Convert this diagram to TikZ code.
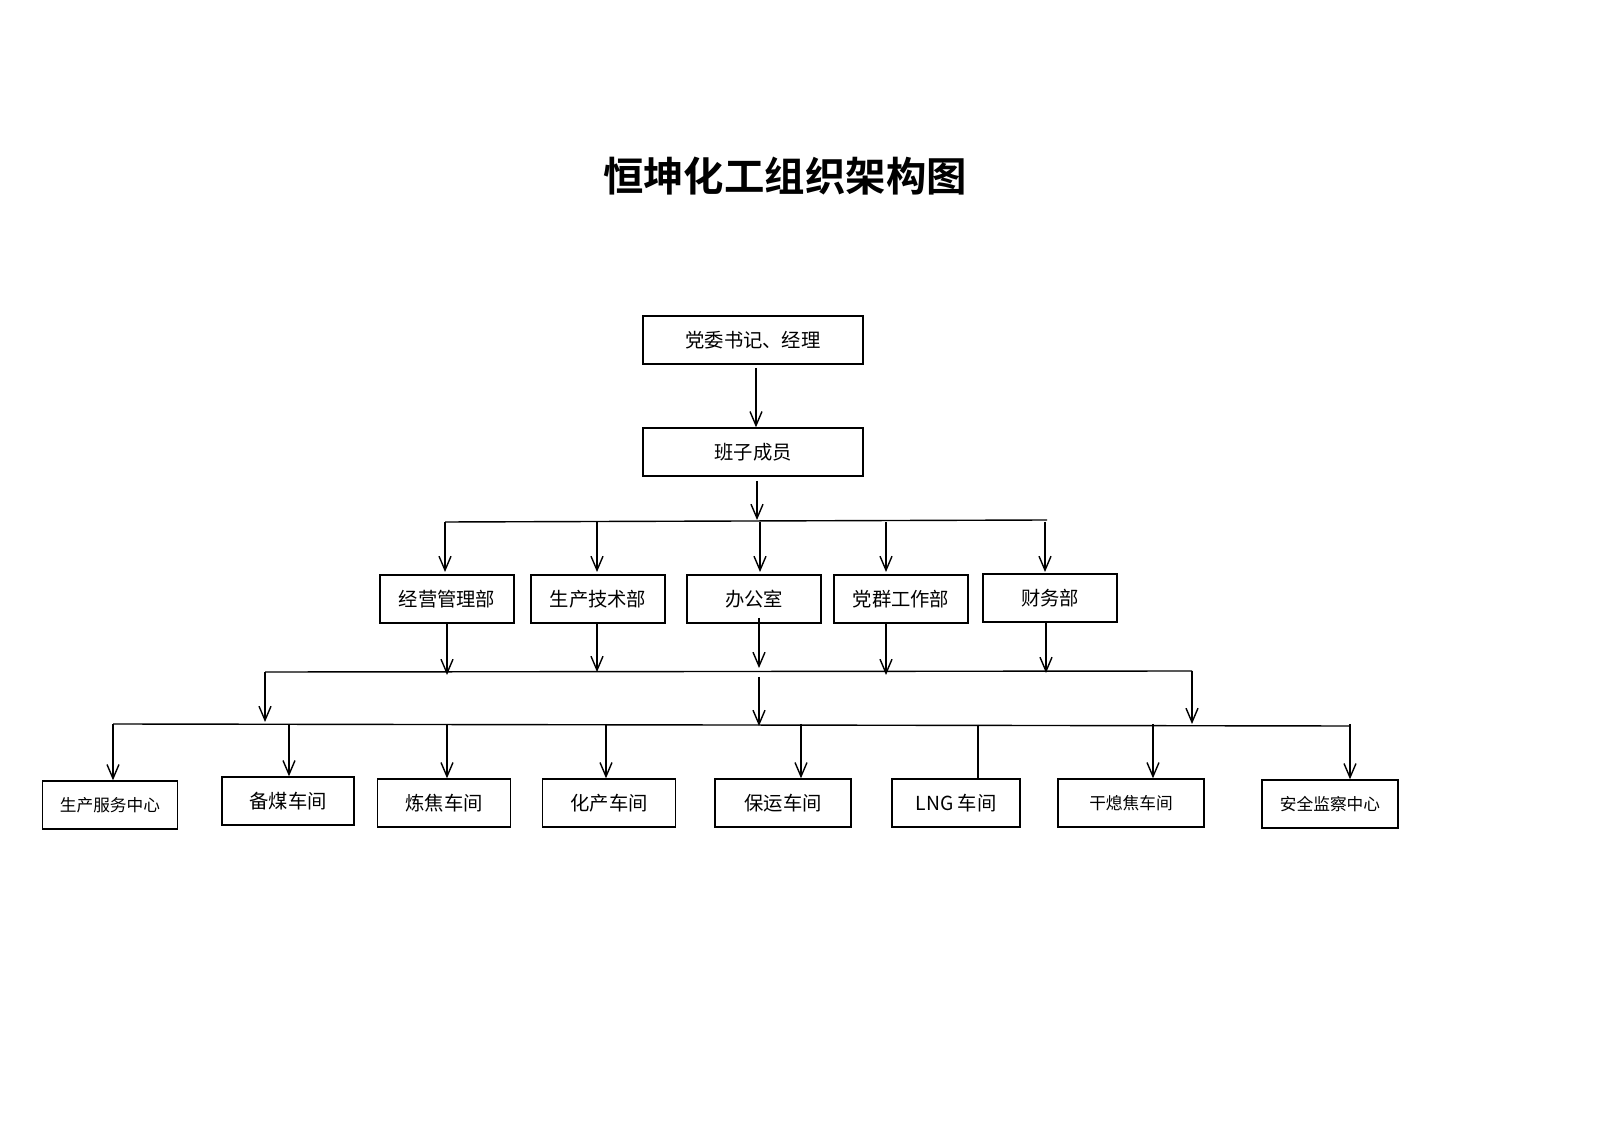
\documentclass[tikz,border=0pt]{standalone}
\usepackage{fontspec}
\setmainfont{Noto Sans CJK SC}
\newfontfamily\titlefont{Noto Sans CJK SC Bold}
\usetikzlibrary{arrows.meta}
\tikzset{
  unit/.style={draw, thick, minimum height=0.96cm, inner sep=0pt, font=\fontsize{11}{13}\selectfont},
  small/.style={font=\fontsize{9.5}{12}\selectfont},
  arr/.style={-{Straight Barb[length=2.8mm,width=2.4mm]}, thick},
  bus/.style={thick}
}
\begin{document}
\begin{tikzpicture}[x=0.02cm, y=-0.02cm]
  \node[font=\titlefont\fontsize{23}{28}\selectfont] (title) at (785,176) {恒坤化工组织架构图};
  % top levels
  \node[unit, minimum width=4.4cm] (dw) at (753,340) {党委书记、经理};
  \node[unit, minimum width=4.4cm] (bz) at (753,452) {班子成员};
  % departments
  \node[unit, minimum width=2.68cm] (jy) at (447,599) {经营管理部};
  \node[unit, minimum width=2.68cm] (sc) at (598,599) {生产技术部};
  \node[unit, minimum width=2.68cm] (bg) at (754,599) {办公室};
  \node[unit, minimum width=2.68cm] (dq) at (901,599) {党群工作部};
  \node[unit, minimum width=2.68cm] (cw) at (1050,598) {财务部};
  % workshops
  \node[unit, small, minimum width=2.7cm]  (fw) at (110,805) {生产服务中心};
  \node[unit, minimum width=2.64cm] (bm) at (288,801) {备煤车间};
  \node[unit, minimum width=2.66cm] (lj) at (444,803) {炼焦车间};
  \node[unit, minimum width=2.66cm] (hc) at (609,803) {化产车间};
  \node[unit, minimum width=2.72cm] (by) at (783,803) {保运车间};
  \node[unit, minimum width=2.56cm] (lng) at (956,803) {LNG 车间};
  \node[unit, small, minimum width=2.92cm] (gx) at (1131,803) {干熄焦车间};
  \node[unit, small, minimum width=2.72cm] (aq) at (1330,804) {安全监察中心};
  % buses
  \coordinate (b1l) at (445,522); \coordinate (b1r) at (1047,520);
  \coordinate (b2l) at (265,672); \coordinate (b2r) at (1192,671);
  \coordinate (b3l) at (113,724); \coordinate (b3r) at (1350,726);
  \draw[bus] (b1l) -- (b1r);
  \draw[bus] (b2l) -- (b2r);
  \draw[bus] (b3l) -- (b3r);
  \draw[arr] (756,368) -- (bz.north -| 756,0);
  \draw[arr] (757,481) -- (757,520);
  % to departments
  \foreach \x in {445, 597, 760, 886, 1045}
    \draw[arr] (\x,522) -- (\x,572);
  % from departments
  \draw[arr] (447,623) -- (447,675);
  \draw[arr] (597,623) -- (597,672);
  \draw[arr] (759,618) -- (759,668);
  \draw[arr] (886,623) -- (886,675);
  \draw[arr] (1046,622) -- (1046,673);
  \draw[arr] (b2l) -- (265,722);
  \draw[arr] (b2r) -- (1192,724);
  \draw[arr] (759,677) -- (759,726);
  % to workshops
  \foreach \n/\x in {fw/113, bm/289, lj/447, hc/606, by/801, gx/1153, aq/1350}
    \draw[arr] (\x,724) -- (\n.north -| \x,0);
  \draw[bus] (978,725) -- (lng.north -| 978,0);
  \pgfresetboundingbox
  \useasboundingbox (0,0) rectangle (1600,1131);
\end{tikzpicture}
\end{document}
